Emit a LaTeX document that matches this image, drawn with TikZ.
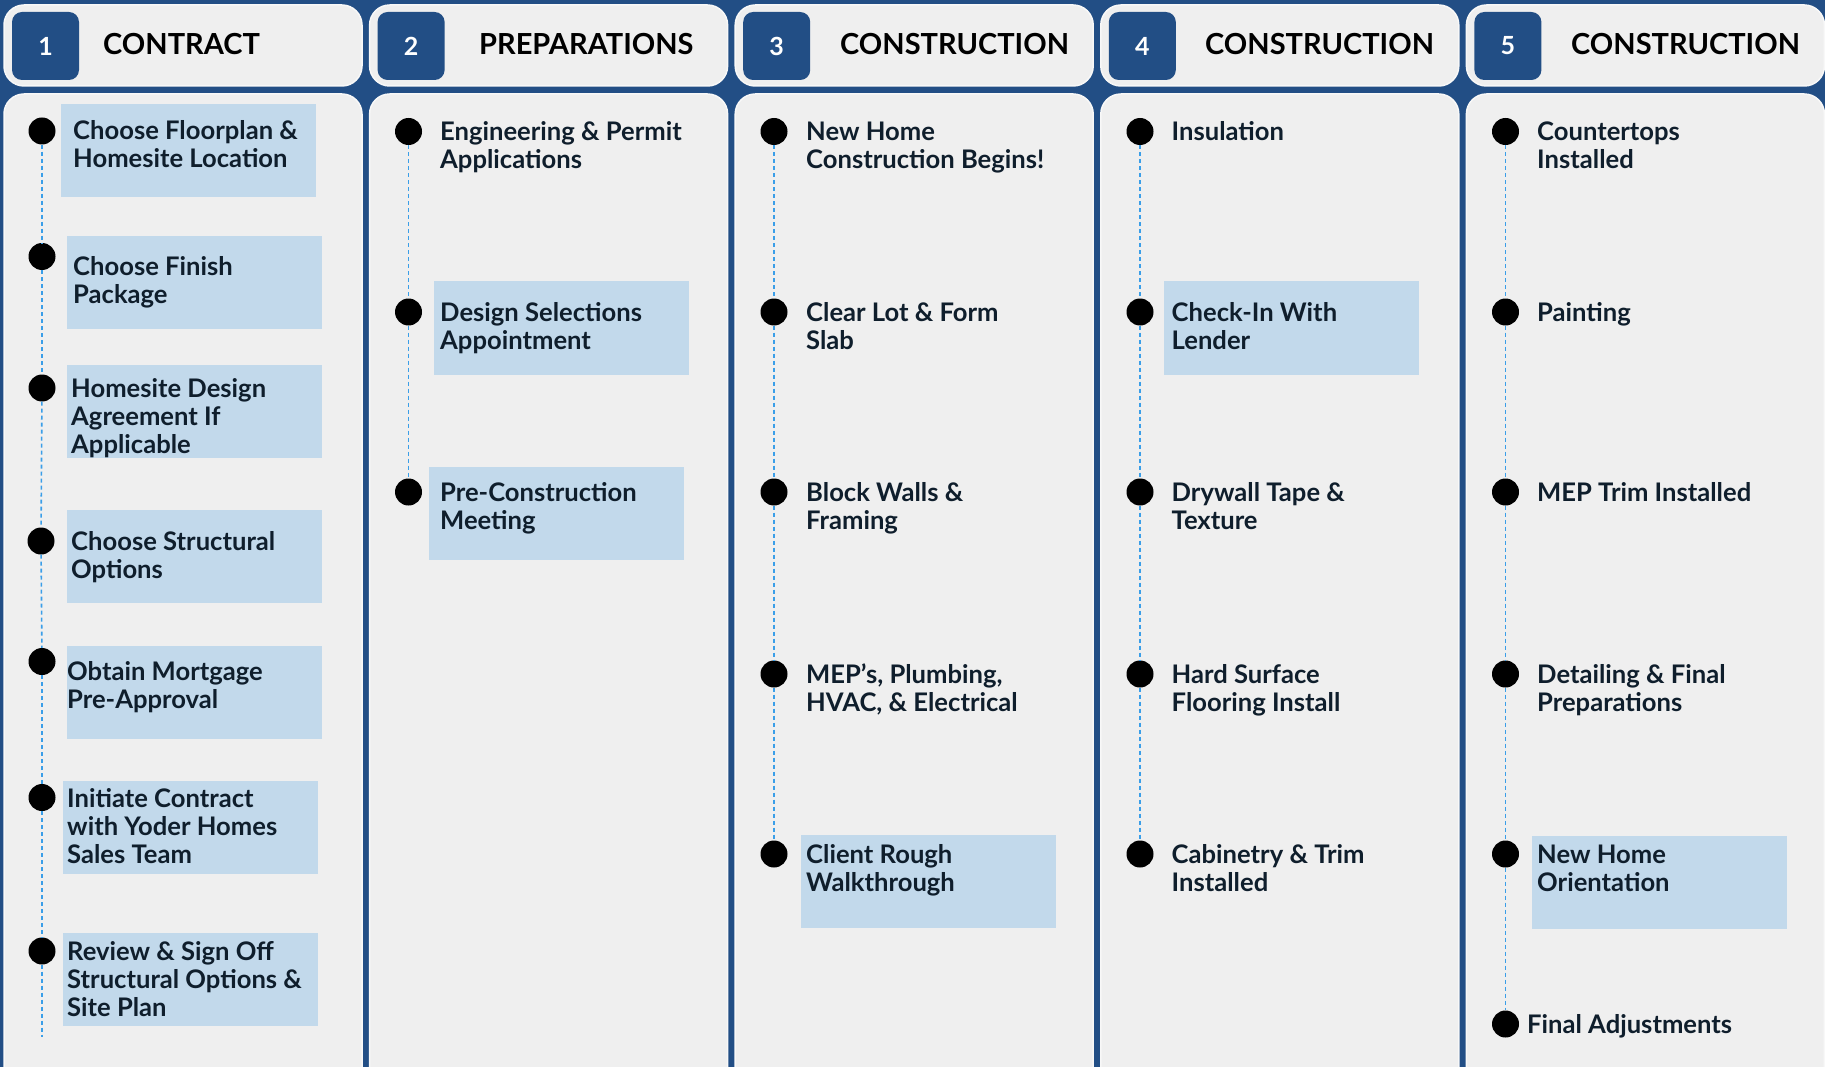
\documentclass[tikz,border=0pt]{standalone}
\usepackage{fontspec}
\setmainfont{Lato}

\definecolor{navy}{HTML}{224E85}
\definecolor{panelgray}{HTML}{EFEFEF}
\definecolor{boxblue}{HTML}{C2D9EB}
\definecolor{dashblue}{HTML}{3A9EE8}
\definecolor{inkdark}{HTML}{0F1E2C}

\begin{document}
\begin{tikzpicture}[x=1pt, y=-1pt,
	panel/.style={fill=panelgray, draw=white!55!panelgray, line width=1.5pt, rounded corners=20pt},
	numbox/.style={fill=navy, rounded corners=10pt, minimum width=67pt, minimum height=68pt, inner sep=0pt, text=white, font=\fontsize{25}{28}\selectfont\bfseries},
	title/.style={anchor=base west, inner sep=0pt, font=\fontsize{29}{34}\selectfont\bfseries},
	dot/.style={circle, fill=black, minimum size=27pt, inner sep=0pt},
	hilite/.style={fill=boxblue, minimum width=255pt, minimum height=93pt, inner sep=0pt},
	% base = Grundlinie der letzten Zeile
	item/.style={anchor=base west, inner sep=0pt, align=left, text=inkdark, font=\fontsize{25.6}{28}\selectfont\bfseries},
	track/.style={dashblue, line width=1.6pt, dash pattern=on 4pt off 3pt},
]
	% Hintergrund
	\useasboundingbox (0,0) rectangle (1825,1067);
	\clip (0,0) rectangle (1825,1067);
	\fill[navy] (0,0) rectangle (1825,1067);

	% Spalten
	\draw[panel] (4,5) rectangle (362,86);
	\draw[panel] (369.6,5) rectangle (727.6,86);
	\draw[panel] (735.2,5) rectangle (1093.2,86);
	\draw[panel] (1100.8,5) rectangle (1458.8,86);
	\draw[panel] (1466.4,5) rectangle (1824.4,86);
	\draw[panel] (4,94) rectangle (362,1090);
	\draw[panel] (369.6,94) rectangle (727.6,1090);
	\draw[panel] (735.2,94) rectangle (1093.2,1090);
	\draw[panel] (1100.8,94) rectangle (1458.8,1090);
	\draw[panel] (1466.4,94) rectangle (1824.4,1090);

	% Kopfzeilen
	\node[numbox] (n1) at (45.5,46) {1};
	\node[numbox] (n2) at (411.1,46) {2};
	\node[numbox] (n3) at (776.7,46) {3};
	\node[numbox] (n4) at (1142.3,46) {4};
	\node[numbox] (n5) at (1507.9,46) {5};
	\node[title] (h1) at (103,55) {CONTRACT};
	\node[title] (h2) at (479,55) {PREPARATIONS};
	\node[title] (h3) at (840,55) {CONSTRUCTION};
	\node[title] (h4) at (1205,55) {CONSTRUCTION};
	\node[title] (h5) at (1571,55) {CONSTRUCTION};

	% blaue Felder
	\node[hilite] (b1a) at (188.5,150.5) {};
	\node[hilite] (b1b) at (194.5,282.5) {};
	\node[hilite] (b1c) at (194.5,411.5) {};
	\node[hilite] (b1d) at (194.5,556.5) {};
	\node[hilite] (b1e) at (194.5,692.5) {};
	\node[hilite] (b1f) at (190.5,827.5) {};
	\node[hilite] (b1g) at (190.5,979.5) {};
	\node[hilite] (b2b) at (561.5,328) {};
	\node[hilite] (b2c) at (556.5,513) {};
	\node[hilite] (b3e) at (928.5,881.5) {};
	\node[hilite] (b4b) at (1291.5,328) {};
	\node[hilite] (b5e) at (1659.5,882) {};

	% Punkte
	\node[dot] (c1a) at (42,131) {};
	\node[dot] (c1b) at (42,256.5) {};
	\node[dot] (c1c) at (42,388) {};
	\node[dot] (c1d) at (41,541) {};
	\node[dot] (c1e) at (42,661.5) {};
	\node[dot] (c1f) at (42,797.5) {};
	\node[dot] (c1g) at (42,951) {};
	\coordinate (c1end) at (42,1037);
	\node[dot] (c2a) at (408.5,131.5) {};
	\node[dot] (c2b) at (408.5,312) {};
	\node[dot] (c2c) at (408.5,492) {};
	\node[dot] (c3a) at (774,131.5) {};
	\node[dot] (c3b) at (774,312) {};
	\node[dot] (c3c) at (774,492) {};
	\node[dot] (c3d) at (774,674) {};
	\node[dot] (c3e) at (774,854) {};
	\node[dot] (c4a) at (1140,131.5) {};
	\node[dot] (c4b) at (1140,312) {};
	\node[dot] (c4c) at (1140,492) {};
	\node[dot] (c4d) at (1140,674) {};
	\node[dot] (c4e) at (1140,854) {};
	\node[dot] (c5a) at (1505.5,131.5) {};
	\node[dot] (c5b) at (1505.5,312) {};
	\node[dot] (c5c) at (1505.5,492) {};
	\node[dot] (c5d) at (1505.5,674) {};
	\node[dot] (c5e) at (1505.5,854) {};
	\node[dot] (c5f) at (1505.5,1024) {};

	% Linien
	\draw[track] (c1a) -- (c1b);
	\draw[track] (c1b) -- (c1c);
	\draw[track] (c1c) -- (c1d);
	\draw[track] (c1d) -- (c1e);
	\draw[track] (c1e) -- (c1f);
	\draw[track] (c1f) -- (c1g);
	\draw[track] (c1g) -- (c1end);
	\draw[track] (c2a) -- (c2b);
	\draw[track] (c2b) -- (c2c);
	\draw[track] (c3a) -- (c3b);
	\draw[track] (c3b) -- (c3c);
	\draw[track] (c3c) -- (c3d);
	\draw[track] (c3d) -- (c3e);
	\draw[track] (c4a) -- (c4b);
	\draw[track] (c4b) -- (c4c);
	\draw[track] (c4c) -- (c4d);
	\draw[track] (c4d) -- (c4e);
	\draw[track] (c5a) -- (c5b);
	\draw[track] (c5b) -- (c5c);
	\draw[track] (c5c) -- (c5d);
	\draw[track] (c5d) -- (c5e);
	\draw[track] (c5e) -- (c5f);

	% Texte
	\node[item] (t1a) at (73,168) {Choose Floorplan \&\\Homesite Location};
	\node[item] (t1b) at (73,303) {Choose Finish\\Package};
	\node[item] (t1c) at (71,453) {Homesite Design\\Agreement If\\Applicable};
	\node[item] (t1d) at (71,578) {Choose Structural\\Options};
	\node[item] (t1e) at (67,708) {Obtain Mortgage\\Pre-Approval};
	\node[item] (t1f) at (67,863) {Initiate Contract\\with Yoder Homes\\Sales Team};
	\node[item] (t1g) at (67,1016) {Review \& Sign Off\\Structural Options \&\\Site Plan};
	\node[item] (t2a) at (440,168.5) {Engineering \& Permit\\Applications};
	\node[item] (t2b) at (440,349) {Design Selections\\Appointment};
	\node[item] (t2c) at (440,529) {Pre-Construction\\Meeting};
	\node[item] (t3a) at (806,168.5) {New Home\\Construction Begins!};
	\node[item] (t3b) at (806,349) {Clear Lot \& Form\\Slab};
	\node[item] (t3c) at (806,529) {Block Walls \&\\Framing};
	\node[item] (t3d) at (806,711) {MEP’s, Plumbing,\\HVAC, \& Electrical};
	\node[item] (t3e) at (806,891) {Client Rough\\Walkthrough};
	\node[item] (t4a) at (1171.5,140.5) {Insulation};
	\node[item] (t4b) at (1171.5,349) {Check-In With\\Lender};
	\node[item] (t4c) at (1171.5,529) {Drywall Tape \&\\Texture};
	\node[item] (t4d) at (1171.5,711) {Hard Surface\\Flooring Install};
	\node[item] (t4e) at (1171.5,891) {Cabinetry \& Trim\\Installed};
	\node[item] (t5a) at (1537,168.5) {Countertops\\Installed};
	\node[item] (t5b) at (1537,321) {Painting};
	\node[item] (t5c) at (1537,501) {MEP Trim Installed};
	\node[item] (t5d) at (1537,711) {Detailing \& Final\\Preparations};
	\node[item] (t5e) at (1537,891) {New Home\\Orientation};
	\node[item] (t5f) at (1527,1033) {Final Adjustments};
\end{tikzpicture}
\end{document}
